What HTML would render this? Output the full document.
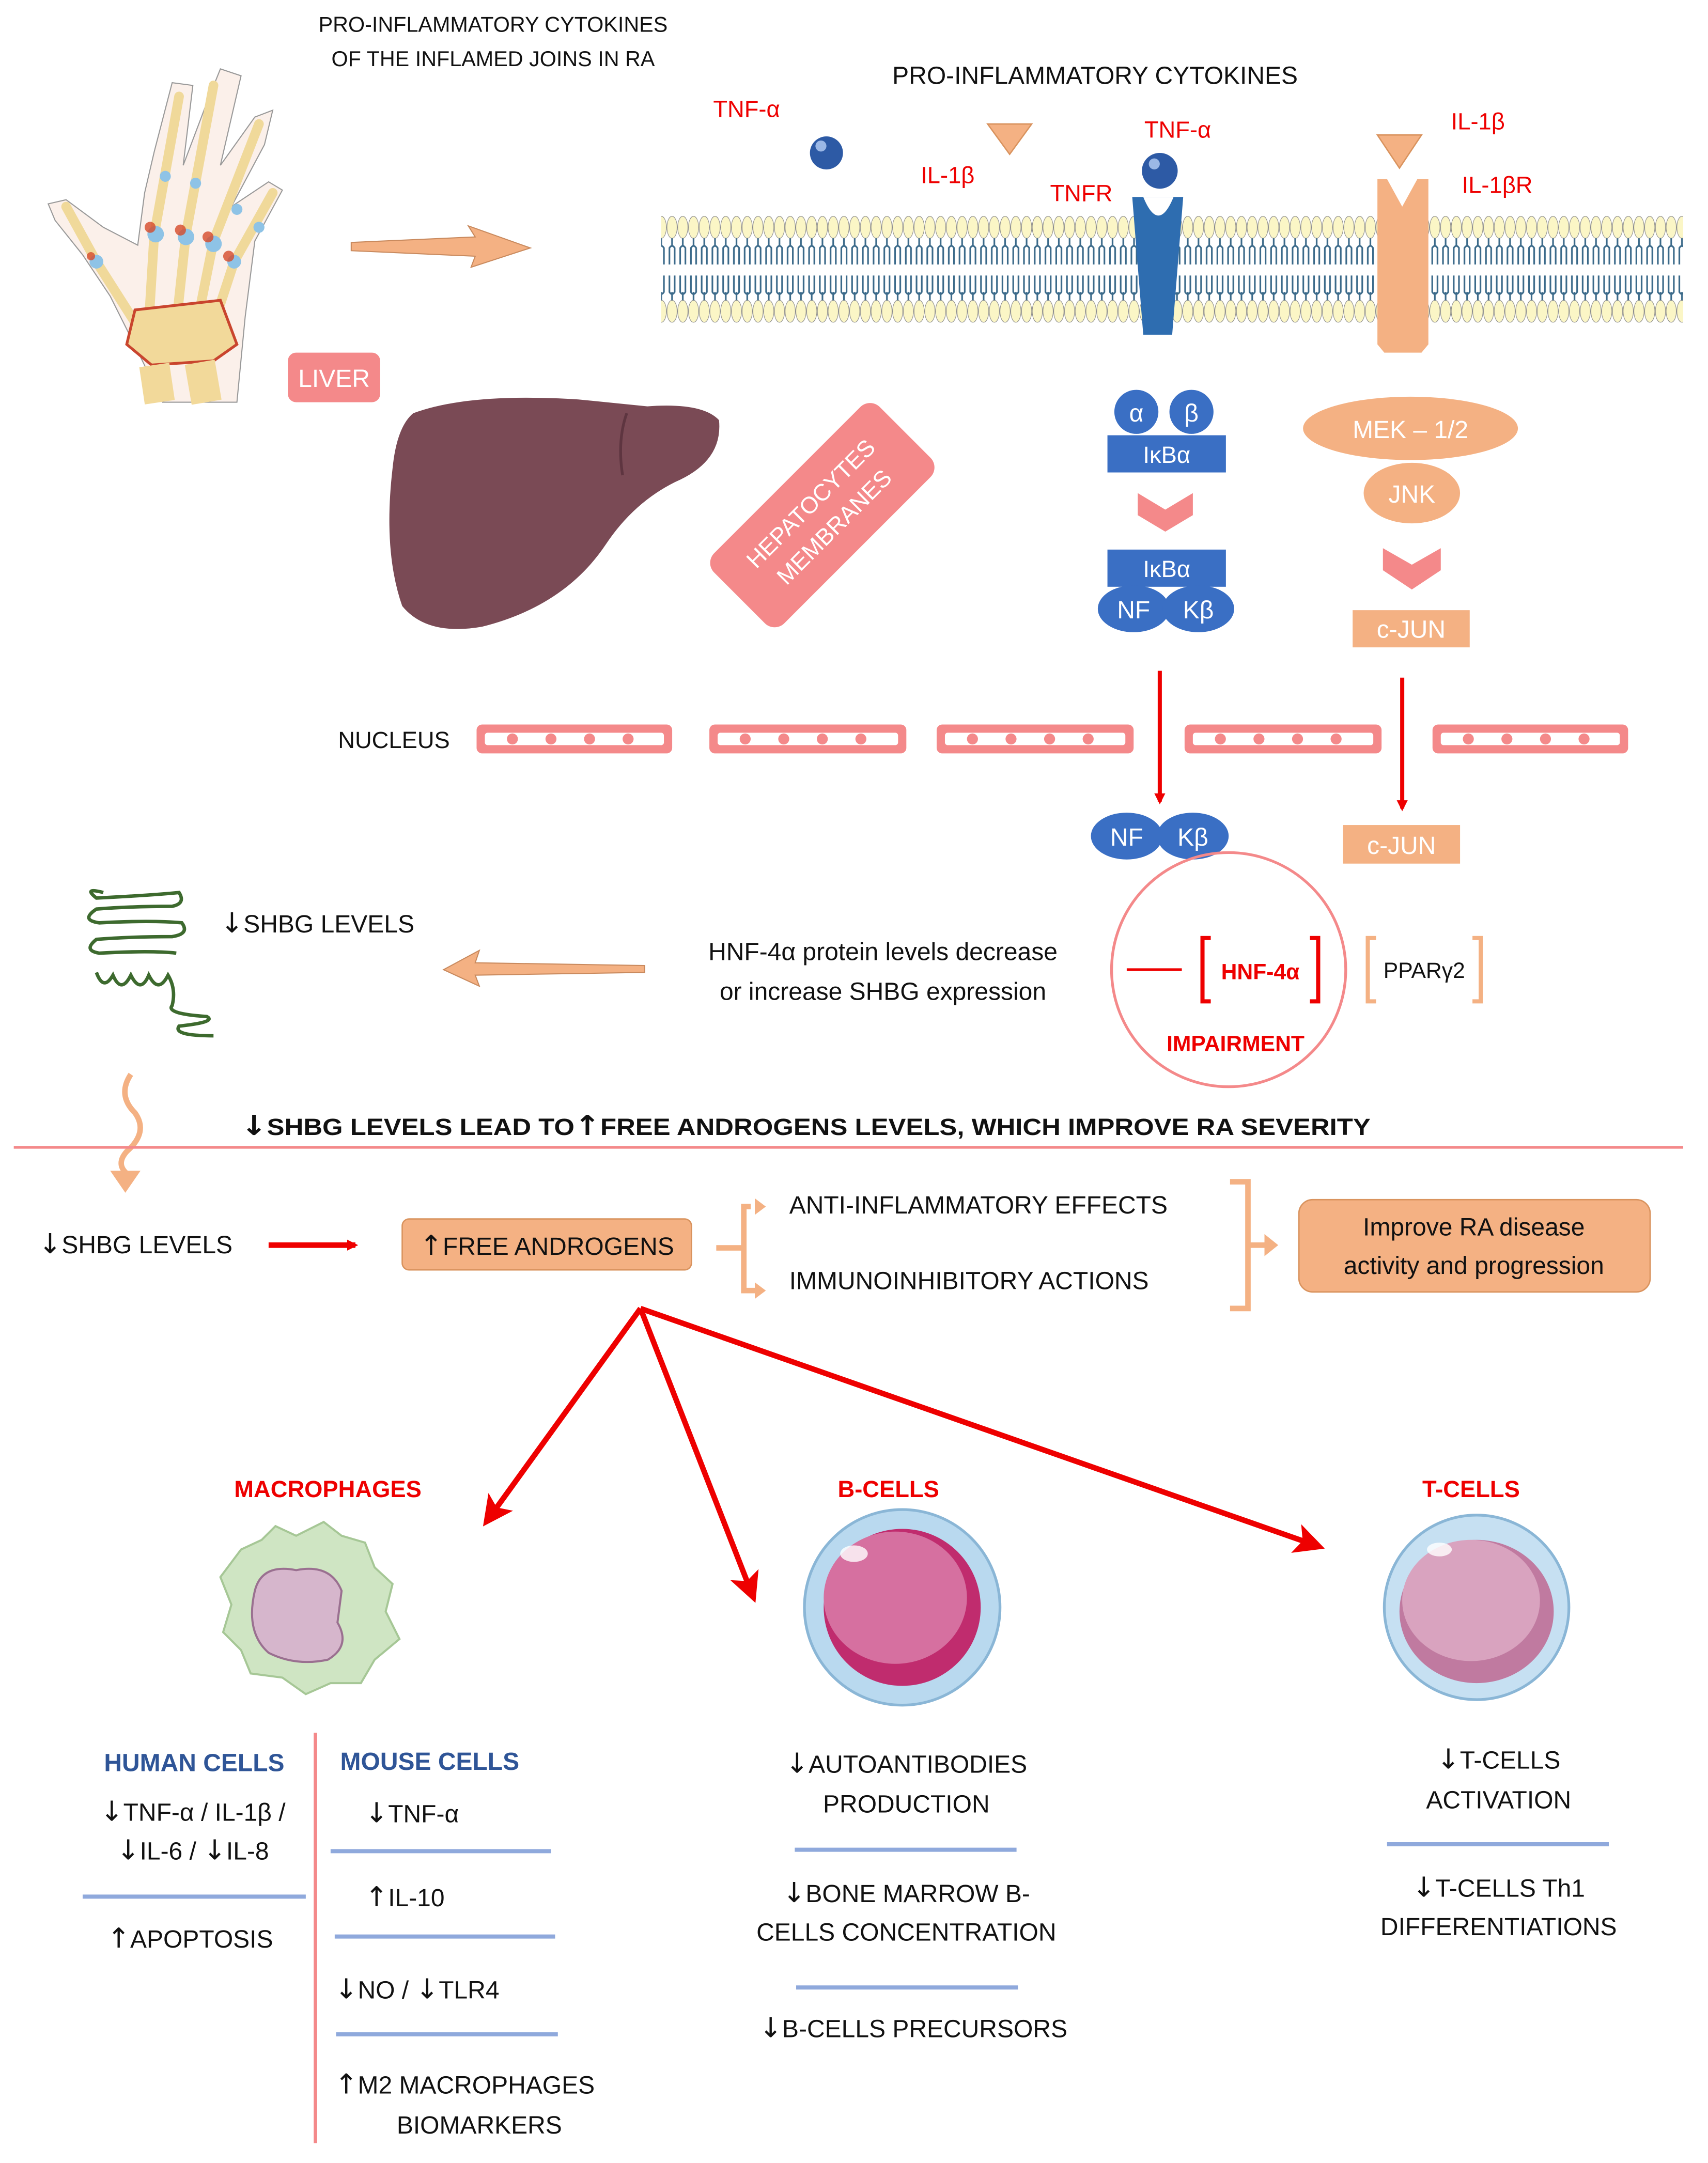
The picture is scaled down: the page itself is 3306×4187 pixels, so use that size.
<!DOCTYPE html>
<html><head><meta charset="utf-8"><style>
html,body{margin:0;padding:0;background:#fff;}
svg{display:block;}
text{font-family:"Liberation Sans","DejaVu Sans",sans-serif;}
.a{font-family:"DejaVu Sans",sans-serif;font-size:20px;}
</style></head><body>
<svg width="3306" height="4187" viewBox="0 0 1240 1570.4" xmlns="http://www.w3.org/2000/svg">
<defs>
<pattern id="mem" x="484" y="0" width="7.8" height="300" patternUnits="userSpaceOnUse">
<ellipse cx="3.9" cy="165" rx="3.7" ry="8" fill="#fbf6c6" stroke="#888" stroke-width="0.4"/>
<ellipse cx="3.9" cy="226" rx="3.7" ry="8" fill="#fbf6c6" stroke="#888" stroke-width="0.4"/>
<path d="M3.9 173 v6 M2 192 v-12 q1.9 -3 3.8 0 v12 M2 200 v12 q1.9 3 3.8 0 v-12 M3.9 212 v6" stroke="#3b6a8a" stroke-width="1.2" fill="none"/>
</pattern>
<marker id="ar" markerWidth="8" markerHeight="8" refX="6" refY="4" orient="auto" markerUnits="userSpaceOnUse" viewBox="0 0 8 8"><path d="M0 0 L8 4 L0 8 Z" fill="#e00"/></marker>
<marker id="arb" markerWidth="22" markerHeight="22" refX="18" refY="11" orient="auto" markerUnits="userSpaceOnUse" viewBox="0 0 22 22"><path d="M0 0 L22 11 L0 22 L5 11 Z" fill="#e00"/></marker>
</defs>

<text x="358" y="23" font-size="15.5" text-anchor="middle" fill="#111">PRO-INFLAMMATORY CYTOKINES</text>
<text x="358" y="48" font-size="15.5" text-anchor="middle" fill="#111">OF THE INFLAMED JOINS IN RA</text>
<text x="795" y="61" font-size="18" text-anchor="middle" fill="#111">PRO-INFLAMMATORY CYTOKINES</text>

<!-- Hand -->
<g>
<path d="M118 292 L100 255 L80 215 L60 185 L40 160 L35 148 L48 145 L75 165 L100 178 L105 140 L112 110 L125 60 L140 62 L133 120 L150 75 L160 50 L175 55 L160 120 L185 85 L198 80 L192 105 L168 150 L195 132 L205 138 L185 175 L178 230 L172 292 Z" fill="#fbf0ea" stroke="#999" stroke-width="0.8"/>
<g stroke="#f0d99a" stroke-width="7" stroke-linecap="round" fill="none">
<path d="M105 245 L70 190 L48 150"/>
<path d="M108 235 L112 170 L130 70"/>
<path d="M128 235 L135 170 L155 62"/>
<path d="M142 240 L155 175 L188 90"/>
<path d="M152 245 L170 190 L198 140"/>
</g>
<g fill="#8ec3e6"><circle cx="113" cy="170" r="6"/><circle cx="135" cy="172" r="6"/><circle cx="155" cy="177" r="6"/><circle cx="170" cy="190" r="5"/><circle cx="70" cy="190" r="5"/><circle cx="120" cy="128" r="4"/><circle cx="142" cy="133" r="4"/><circle cx="172" cy="152" r="4"/><circle cx="188" cy="165" r="4"/></g>
<g fill="#d64a2a" opacity="0.8"><circle cx="109" cy="165" r="4"/><circle cx="131" cy="167" r="4"/><circle cx="151" cy="172" r="4"/><circle cx="166" cy="186" r="4"/><circle cx="66" cy="186" r="3"/></g>
<path d="M98 225 L160 218 L172 250 L155 262 L110 265 L92 250 Z" fill="#f2d99a" stroke="#c9452e" stroke-width="2"/>
<path d="M112 265 L116 292 M145 263 L150 292" stroke="#f2d99a" stroke-width="22"/>
</g>
<path d="M255 176 L345 172 L340 164 L385 180 L342 194 L345 186 L255 182 Z" fill="#f4b183" stroke="#c98a5e" stroke-width="0.8"/>

<text x="542" y="85" font-size="17" text-anchor="middle" fill="#e00">TNF-α</text>
<circle cx="600" cy="111" r="12" fill="#2d5aa5"/><circle cx="596" cy="106" r="4" fill="#9bb8e6"/>
<text x="688" y="133" font-size="17" text-anchor="middle" fill="#e00">IL-1β</text>
<path d="M717 90 L749 90 L733 112 Z" fill="#f4b183" stroke="#d9935e"/>
<text x="785" y="146" font-size="17" text-anchor="middle" fill="#e00">TNFR</text>
<text x="855" y="100" font-size="17" text-anchor="middle" fill="#e00">TNF-α</text>
<text x="1073" y="94" font-size="17" text-anchor="middle" fill="#e00">IL-1β</text>
<path d="M1000 98 L1032 98 L1016 122 Z" fill="#f4b183" stroke="#d9935e"/>
<text x="1087" y="140" font-size="17" text-anchor="middle" fill="#e00">IL-1βR</text>

<rect x="480" y="155" width="742" height="82" fill="url(#mem)"/>
<path d="M822 143 L859 143 L851 243 L830 243 Z" fill="#2e6db0"/>
<path d="M830 143 Q841 170 852 143 Z" fill="#fff"/>
<circle cx="842" cy="124" r="13" fill="#2d5aa5"/><circle cx="838" cy="119" r="4" fill="#9bb8e6"/>
<path d="M1000 130 L1007 130 L1018 150 L1029 130 L1037 130 L1037 250 L1032 256 L1005 256 L1000 250 Z" fill="#f4b183"/>

<rect x="209" y="256" width="67" height="36" rx="6" fill="#f4898a"/>
<text x="242.5" y="281" font-size="18" text-anchor="middle" fill="#fff">LIVER</text>
<path d="M300 300 Q340 285 420 290 L470 295 Q510 292 522 305 Q525 335 490 350 Q460 365 440 395 Q410 440 350 455 Q310 462 292 440 Q278 400 285 340 Q288 310 300 300 Z" fill="#7a4a55"/>
<path d="M455 300 Q448 320 452 345" stroke="#5e3540" stroke-width="2" fill="none"/>
<g transform="translate(597,374) rotate(-45)">
<rect x="-85" y="-36" width="170" height="72" rx="10" fill="#f4898a"/>
<text x="0" y="-6" font-size="17" text-anchor="middle" fill="#fff">HEPATOCYTES</text>
<text x="0" y="18" font-size="17" text-anchor="middle" fill="#fff">MEMBRANES</text>
</g>

<circle cx="825" cy="299" r="16" fill="#3a6fc4"/><text x="825" y="306" font-size="18" text-anchor="middle" fill="#fff">α</text>
<circle cx="865" cy="299" r="16" fill="#3a6fc4"/><text x="865" y="306" font-size="18" text-anchor="middle" fill="#fff">β</text>
<rect x="804" y="316" width="86" height="27" fill="#3a6fc4"/><text x="847" y="336" font-size="17" text-anchor="middle" fill="#fff">IκBα</text>
<path d="M826 358 L846 370 L866 358 L866 374 L846 386 L826 374 Z" fill="#f4898a"/>
<rect x="804" y="399" width="86" height="27" fill="#3a6fc4"/><text x="847" y="419" font-size="17" text-anchor="middle" fill="#fff">IκBα</text>
<ellipse cx="823" cy="442" rx="26" ry="17" fill="#3a6fc4"/><text x="823" y="449" font-size="18" text-anchor="middle" fill="#fff">NF</text>
<ellipse cx="870" cy="442" rx="26" ry="17" fill="#3a6fc4"/><text x="870" y="449" font-size="18" text-anchor="middle" fill="#fff">Kβ</text>

<ellipse cx="1024" cy="311" rx="78" ry="23" fill="#f4b183"/><text x="1024" y="318" font-size="18" text-anchor="middle" fill="#fff">MEK – 1/2</text>
<ellipse cx="1025" cy="358" rx="35" ry="22" fill="#f4b183"/><text x="1025" y="365" font-size="18" text-anchor="middle" fill="#fff">JNK</text>
<path d="M1004 398 L1025 410 L1046 398 L1046 414 L1025 428 L1004 414 Z" fill="#f4898a"/>
<rect x="982" y="443" width="85" height="27" fill="#f4b183"/><text x="1024.5" y="463" font-size="18" text-anchor="middle" fill="#fff">c-JUN</text>

<text x="286" y="543" font-size="17" text-anchor="middle" fill="#111">NUCLEUS</text>
<g fill="#f4898a">
<rect x="346" y="526" width="142" height="21" rx="4"/><rect x="515" y="526" width="143" height="21" rx="4"/><rect x="680" y="526" width="143" height="21" rx="4"/><rect x="860" y="526" width="143" height="21" rx="4"/><rect x="1040" y="526" width="142" height="21" rx="4"/>
</g>
<g fill="#fff">
<rect x="352" y="532" width="130" height="9" rx="2"/><rect x="521" y="532" width="131" height="9" rx="2"/><rect x="686" y="532" width="131" height="9" rx="2"/><rect x="866" y="532" width="131" height="9" rx="2"/><rect x="1046" y="532" width="130" height="9" rx="2"/>
</g>
<g fill="#f4898a">
<circle cx="372" cy="536.5" r="4"/><circle cx="400" cy="536.5" r="4"/><circle cx="428" cy="536.5" r="4"/><circle cx="456" cy="536.5" r="4"/>
<circle cx="541" cy="536.5" r="4"/><circle cx="569" cy="536.5" r="4"/><circle cx="597" cy="536.5" r="4"/><circle cx="625" cy="536.5" r="4"/>
<circle cx="706" cy="536.5" r="4"/><circle cx="734" cy="536.5" r="4"/><circle cx="762" cy="536.5" r="4"/><circle cx="790" cy="536.5" r="4"/>
<circle cx="886" cy="536.5" r="4"/><circle cx="914" cy="536.5" r="4"/><circle cx="942" cy="536.5" r="4"/><circle cx="970" cy="536.5" r="4"/>
<circle cx="1066" cy="536.5" r="4"/><circle cx="1094" cy="536.5" r="4"/><circle cx="1122" cy="536.5" r="4"/><circle cx="1150" cy="536.5" r="4"/>
</g>
<line x1="842" y1="487" x2="842" y2="582" stroke="#e00" stroke-width="3" marker-end="url(#ar)"/>
<line x1="1018" y1="492" x2="1018" y2="587" stroke="#e00" stroke-width="3" marker-end="url(#ar)"/>
<ellipse cx="818" cy="607" rx="26" ry="17" fill="#3a6fc4"/><text x="818" y="614" font-size="18" text-anchor="middle" fill="#fff">NF</text>
<ellipse cx="866" cy="607" rx="26" ry="17" fill="#3a6fc4"/><text x="866" y="614" font-size="18" text-anchor="middle" fill="#fff">Kβ</text>
<rect x="975" y="599" width="85" height="28" fill="#f4b183"/><text x="1017.5" y="620" font-size="18" text-anchor="middle" fill="#fff">c-JUN</text>

<!-- SHBG DNA -->
<g fill="none" stroke="#3d6a2e" stroke-width="2.5">
<path d="M75 648 Q60 644 70 652 Q110 650 130 648 Q135 656 125 658 Q95 658 70 660 Q58 668 72 670 Q110 668 132 670 Q138 678 125 680 Q95 680 70 682 Q60 690 72 692 Q110 690 128 692"/>
<path d="M70 706 Q75 720 82 708 Q88 722 95 708 Q102 722 108 708 Q115 722 122 708 Q128 718 125 730 Q120 736 150 738 Q158 742 130 745 Q125 752 155 752"/>
</g>
<text x="160" y="677" font-size="18" fill="#111"><tspan class="a">↓</tspan>SHBG LEVELS</text>
<path d="M468 701 L345 699 L348 690 L322 704 L348 716 L345 708 L468 706 Z" fill="#f4b183" stroke="#c98a5e" stroke-width="0.8"/>
<text x="641" y="697" font-size="18" text-anchor="middle" fill="#111">HNF-4α protein levels decrease</text>
<text x="641" y="726" font-size="18" text-anchor="middle" fill="#111">or increase SHBG expression</text>
<circle cx="892" cy="704" r="85" fill="none" stroke="#f4898a" stroke-width="2"/>
<line x1="818" y1="704" x2="858" y2="704" stroke="#e00" stroke-width="2"/>
<path d="M879 681 L873 681 L873 727 L879 727 M951 681 L957 681 L957 727 L951 727" fill="none" stroke="#e00" stroke-width="3"/>
<text x="915" y="711" font-size="16" font-weight="bold" text-anchor="middle" fill="#e00">HNF-4α</text>
<text x="897" y="763" font-size="16" font-weight="bold" text-anchor="middle" fill="#e00">IMPAIRMENT</text>
<path d="M999 681 L993 681 L993 727 L999 727 M1069 681 L1075 681 L1075 727 L1069 727" fill="none" stroke="#f4b183" stroke-width="3"/>
<text x="1034" y="710" font-size="16" text-anchor="middle" fill="#111">PPARγ2</text>

<path d="M95 780 Q85 795 98 808 Q108 822 92 836 Q84 845 92 852" fill="none" stroke="#f4b183" stroke-width="4"/>
<path d="M80 850 L102 850 L91 866 Z" fill="#f4b183"/>

<text x="585" y="824" font-size="17" font-weight="bold" text-anchor="middle" fill="#111" textLength="820" lengthAdjust="spacingAndGlyphs"><tspan class="a">↓</tspan>SHBG LEVELS LEAD TO<tspan class="a">↑</tspan>FREE ANDROGENS LEVELS, WHICH IMPROVE RA SEVERITY</text>
<line x1="10" y1="833" x2="1222" y2="833" stroke="#f4898a" stroke-width="2"/>

<text x="28" y="910" font-size="18" fill="#111"><tspan class="a">↓</tspan>SHBG LEVELS</text>
<line x1="195" y1="904" x2="258" y2="904" stroke="#e00" stroke-width="4" marker-end="url(#ar)"/>
<rect x="292" y="885" width="210" height="37" rx="5" fill="#f4b183" stroke="#d9935e"/>
<text x="397" y="911" font-size="18" text-anchor="middle" fill="#111"><tspan class="a">↑</tspan>FREE ANDROGENS</text>
<path d="M545 876 L540 876 L540 937 L548 937 M520 906 L540 906" fill="none" stroke="#f4b183" stroke-width="4"/>
<path d="M548 870 L556 876 L548 882 Z M548 931 L556 937 L548 943 Z" fill="#f4b183"/>
<text x="573" y="881" font-size="18" fill="#111">ANTI-INFLAMMATORY EFFECTS</text>
<text x="573" y="936" font-size="18" fill="#111">IMMUNOINHIBITORY ACTIONS</text>
<path d="M893 858 L906 858 L906 950 L893 950 M906 904 L918 904" fill="none" stroke="#f4b183" stroke-width="4"/>
<path d="M918 896 L928 904 L918 912 Z" fill="#f4b183"/>
<rect x="943" y="871" width="255" height="67" rx="10" fill="#f4b183" stroke="#d9935e"/>
<text x="1070" y="897" font-size="18" text-anchor="middle" fill="#111">Improve RA disease</text>
<text x="1070" y="925" font-size="18" text-anchor="middle" fill="#111">activity and progression</text>

<line x1="465" y1="950" x2="353" y2="1105" stroke="#e00" stroke-width="4" marker-end="url(#arb)"/>
<line x1="465" y1="950" x2="547" y2="1160" stroke="#e00" stroke-width="4" marker-end="url(#arb)"/>
<line x1="465" y1="950" x2="958" y2="1123" stroke="#e00" stroke-width="4" marker-end="url(#arb)"/>

<text x="238" y="1087" font-size="17" font-weight="bold" text-anchor="middle" fill="#e00">MACROPHAGES</text>
<text x="645" y="1087" font-size="17" font-weight="bold" text-anchor="middle" fill="#e00">B-CELLS</text>
<text x="1068" y="1087" font-size="17" font-weight="bold" text-anchor="middle" fill="#e00">T-CELLS</text>

<path d="M175 1125 L190 1118 L200 1108 L215 1115 L235 1105 L248 1115 L265 1120 L272 1138 L285 1150 L280 1170 L290 1190 L272 1205 L262 1222 L240 1222 L222 1230 L205 1218 L182 1215 L175 1198 L162 1185 L168 1165 L160 1145 Z" fill="#cfe5c3" stroke="#a6c796" stroke-width="1.5"/>
<path d="M185 1155 Q190 1135 215 1140 Q240 1135 248 1155 L245 1178 Q255 1195 238 1205 Q215 1210 195 1200 Q178 1185 185 1155 Z" fill="#d6b6cc" stroke="#9a7090" stroke-width="1.5"/>
<circle cx="655" cy="1167" r="71" fill="#b9d9ef" stroke="#8ab6d6" stroke-width="2"/>
<circle cx="655" cy="1167" r="57" fill="#c02c6e"/>
<ellipse cx="650" cy="1160" rx="52" ry="48" fill="#d670a0"/>
<ellipse cx="620" cy="1128" rx="10" ry="6" fill="#fff" opacity="0.8"/>
<circle cx="1072" cy="1167" r="67" fill="#c6e0f2" stroke="#8ab6d6" stroke-width="2"/>
<ellipse cx="1072" cy="1170" rx="56" ry="52" fill="#c07aa0"/>
<ellipse cx="1068" cy="1162" rx="50" ry="44" fill="#d9a3bf"/>
<ellipse cx="1045" cy="1125" rx="9" ry="5" fill="#fff" opacity="0.8"/>

<line x1="229" y1="1258" x2="229" y2="1556" stroke="#f4898a" stroke-width="2.5"/>
<text x="141" y="1286" font-size="18" font-weight="bold" text-anchor="middle" fill="#2f5597">HUMAN CELLS</text>
<text x="312" y="1285" font-size="18" font-weight="bold" text-anchor="middle" fill="#2f5597">MOUSE CELLS</text>
<text x="140" y="1322" font-size="18" text-anchor="middle" fill="#111"><tspan class="a">↓</tspan>TNF-α / IL-1β /</text>
<text x="140" y="1350" font-size="18" text-anchor="middle" fill="#111"><tspan class="a">↓</tspan>IL-6 / <tspan class="a">↓</tspan>IL-8</text>
<line x1="60" y1="1377" x2="222" y2="1377" stroke="#8fa9dc" stroke-width="3"/>
<text x="138" y="1414" font-size="18" text-anchor="middle" fill="#111"><tspan class="a">↑</tspan>APOPTOSIS</text>
<text x="265" y="1323" font-size="18" fill="#111"><tspan class="a">↓</tspan>TNF-α</text>
<line x1="240" y1="1344" x2="400" y2="1344" stroke="#8fa9dc" stroke-width="3"/>
<text x="265" y="1384" font-size="18" fill="#111"><tspan class="a">↑</tspan>IL-10</text>
<line x1="243" y1="1406" x2="403" y2="1406" stroke="#8fa9dc" stroke-width="3"/>
<text x="243" y="1451" font-size="18" fill="#111"><tspan class="a">↓</tspan>NO / <tspan class="a">↓</tspan>TLR4</text>
<line x1="244" y1="1477" x2="405" y2="1477" stroke="#8fa9dc" stroke-width="3"/>
<text x="243" y="1520" font-size="18" fill="#111"><tspan class="a">↑</tspan>M2 MACROPHAGES</text>
<text x="348" y="1549" font-size="18" text-anchor="middle" fill="#111">BIOMARKERS</text>

<text x="658" y="1287" font-size="18" text-anchor="middle" fill="#111"><tspan class="a">↓</tspan>AUTOANTIBODIES</text>
<text x="658" y="1316" font-size="18" text-anchor="middle" fill="#111">PRODUCTION</text>
<line x1="577" y1="1343" x2="738" y2="1343" stroke="#8fa9dc" stroke-width="3"/>
<text x="658" y="1381" font-size="18" text-anchor="middle" fill="#111"><tspan class="a">↓</tspan>BONE MARROW B-</text>
<text x="658" y="1409" font-size="18" text-anchor="middle" fill="#111">CELLS CONCENTRATION</text>
<line x1="578" y1="1443" x2="739" y2="1443" stroke="#8fa9dc" stroke-width="3"/>
<text x="663" y="1479" font-size="18" text-anchor="middle" fill="#111"><tspan class="a">↓</tspan>B-CELLS PRECURSORS</text>

<text x="1088" y="1284" font-size="18" text-anchor="middle" fill="#111"><tspan class="a">↓</tspan>T-CELLS</text>
<text x="1088" y="1313" font-size="18" text-anchor="middle" fill="#111">ACTIVATION</text>
<line x1="1007" y1="1339" x2="1168" y2="1339" stroke="#8fa9dc" stroke-width="3"/>
<text x="1088" y="1377" font-size="18" text-anchor="middle" fill="#111"><tspan class="a">↓</tspan>T-CELLS Th1</text>
<text x="1088" y="1405" font-size="18" text-anchor="middle" fill="#111">DIFFERENTIATIONS</text>
</svg>
</body></html>
